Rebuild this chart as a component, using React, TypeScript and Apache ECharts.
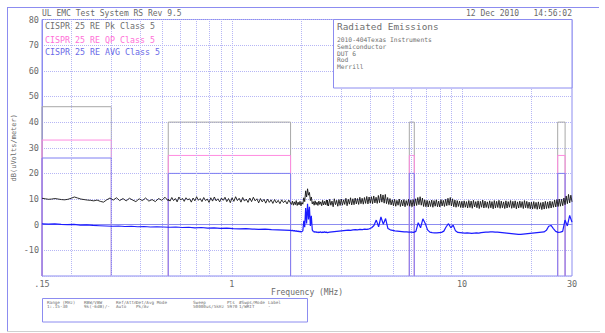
import React, { useEffect, useRef } from "react";
import * as echarts from "echarts";

// ---------- data ----------
const bandStart = [0.15, 0.53, 5.9, 26];
const bandEnd = [0.3, 1.8, 6.2, 28];
const pkLimit = [46, 40, 40, 40];
const qpLimit = [33, 27, 27, 27];
const avgLimit = [26, 20, 20, 20];

const gridFreqs = [0.2, 0.3, 0.4, 0.5, 0.6, 0.7, 0.8, 0.9, 1, 2, 3, 4, 5, 6, 7, 8, 9, 10, 20];
const yTicks = [-20, -10, 0, 10, 20, 30, 40, 50, 60, 70, 80];

// Peak trace, segment ranges (MHz) and the values read in each
const pkRanges = [[0.15, 0.53], [0.53, 1.8], [1.8, 2.6], [2.6, 30]];
const pkSeg1 = [10.3, 10.1, 9.9, 10.0, 10.2, 10.0, 9.8, 9.7, 9.9, 10.3, 10.8, 10.4, 10.0, 9.8, 9.6, 9.5, 9.3, 9.6, 9.1, 8.8,
  9.7, 10.4, 9.6, 10.5, 9.4, 10.2, 9.3, 10.3, 9.6, 9.0, 10.1, 9.4, 10.4, 9.2, 9.8, 9.0, 10.2, 9.5, 10.7, 9.3];
const pkSeg2 = [10.0, 9.2, 10.6, 9.4, 10.2, 8.9, 10.8, 9.6, 10.3, 9.1, 10.5, 9.7, 10.1, 8.8, 10.4, 9.3, 10.9, 9.5, 10.2, 9.0,
  10.6, 9.4, 10.0, 8.7, 10.5, 9.2, 10.8, 9.3, 10.1, 8.9, 10.4, 9.5, 10.7, 9.0, 10.2, 8.6, 10.5, 9.1, 10.9, 9.4,
  10.3, 8.8, 10.6, 9.2, 10.0, 8.7, 10.4, 9.0, 10.7, 9.3, 10.1, 8.5, 10.2, 8.9, 9.9, 8.4, 10.0, 8.7, 9.7, 8.3,
  9.8, 8.5, 9.5, 8.2, 9.7, 8.6, 9.4, 8.1, 9.6, 8.4];
const pkSeg3 = [8.6, 7.9, 9.2, 7.6, 8.9, 7.8, 9.4, 7.5, 8.8, 7.7, 9.1, 7.4, 8.7, 8.0, 10.5, 9.0, 13.2, 10.8, 14.0, 11.5,
  12.6, 9.4, 10.8, 8.1, 9.0, 7.6, 9.3, 7.8, 8.8, 7.5, 9.2, 7.9, 8.9, 7.4, 9.5, 7.7, 9.1, 7.8, 9.6, 7.5];
const pkSeg4 = [
  9.6, 7.3, 9.9, 7.6, 9.2, 7.0, 10.1, 7.8, 9.5, 7.2, 9.8, 7.5,
  10.0, 7.6, 9.7, 7.9, 10.3, 7.4, 9.9, 8.0, 10.5, 7.7, 10.1, 7.8, 10.4, 8.1, 10.2, 7.9, 10.7, 8.2, 10.3, 8.0, 10.6, 8.3, 11.0, 8.1, 10.8,
  8.4, 10.9, 8.2, 11.2, 8.5, 10.7, 8.3, 11.4, 8.6, 11.9, 8.8, 11.6, 8.4, 11.8, 8.2, 10.6, 7.9, 10.2, 7.7,
  9.7, 7.4, 9.9, 7.2, 9.5, 7.6, 10.0, 7.1, 9.6, 7.3, 9.8, 7.0, 9.4, 7.5, 9.9,
  7.2, 9.6, 7.0, 9.8, 7.3, 10.1, 7.5, 10.6, 7.8, 10.9, 7.6, 10.4, 7.1, 9.7, 7.0,
  9.5, 6.9, 9.3, 7.1, 9.6, 6.8, 9.4, 7.2, 9.7, 7.0, 9.2, 6.9, 9.8, 7.3, 9.5, 7.1, 9.9, 7.4, 10.3, 7.6, 10.6, 7.3, 10.1, 7.0, 9.6, 6.8, 9.4, 7.1, 9.2, 6.7,
  9.1, 6.6, 9.3, 6.8, 9.0, 6.5, 9.4, 6.7, 9.2, 6.4, 9.5, 6.9, 9.0, 6.6, 9.3, 6.3, 9.1, 6.8, 9.6, 6.5,
  9.2, 6.7, 8.9, 6.4, 9.3, 6.6, 9.0, 6.2, 9.4, 6.5, 9.1, 6.7, 9.5, 6.4, 9.2, 6.6, 8.9, 6.3, 9.3, 6.5,
  9.0, 6.8, 9.4, 6.4, 9.1, 6.6, 9.3, 6.2, 8.9, 6.5, 9.2, 6.7, 9.0, 6.3, 9.4, 6.6, 9.1, 6.4, 8.8, 6.2,
  8.8, 6.1, 9.0, 6.3, 8.7, 6.0, 8.9, 6.2, 8.6, 5.9, 8.8, 6.1, 9.1, 6.3, 8.9, 6.4, 9.2, 6.5, 9.0,
  6.8, 9.6, 6.9, 9.8, 7.1, 10.0, 7.2, 9.9, 7.4, 10.4,
  7.8, 11.2, 8.2, 11.8, 8.5, 11.5, 8.9];

// Average trace
const avgRanges = [[0.15, 1.8], [1.8, 2.6], [2.6, 30]];
const avgSeg1 = [0.3, 0.2, 0.3, 0.1, 0.0, 0.1, -0.2, -0.1, -0.3, -0.4, -0.5, -0.6, -0.5, -0.7, -0.6, -0.8, -0.7, -0.9, -0.8, -0.9,
  -1.0, -0.9, -1.1, -1.0, -1.2, -1.1, -1.3, -1.2, -1.4, -1.3, -1.5, -1.6, -1.5, -1.7, -1.8, -1.7, -1.9, -2.0, -2.1, -2.2];
const avgSeg2 = [-2.2, -2.3, -2.2, -2.4, -2.3, -2.5, -2.4, -2.6, -2.5, -2.7, -2.6, -2.8, -2.7, -2.4, 1.5, -1.0, 6.5, 0.5, 8.2, 2.0,
  7.0, -0.5, 3.5, -2.0, -2.6, -2.9, -2.7, -3.0, -2.8, -3.1, -2.9, -3.0, -2.8, -3.1, -2.9, -3.0, -2.8, -3.0, -2.9, -3.1];
const avgSeg3 = [
  -3.0, -2.9, -2.8, -2.7, -2.6, -2.5,
  -2.4, -2.3, -2.2, -2.1, -2.2, -2.0, -1.9, -2.0, -1.8, -1.9, -1.7, -1.8,
  -1.6, -1.2, -0.3, 1.8, -0.8, 3.0, 0.2, 2.4, -1.5,
  -2.0, -2.2, -2.4, -2.5, -2.6, -2.7, -2.8, -2.8, -2.9, -2.9, -3.0,
  -2.6, 0.8, -1.2, 2.3, 0.5, -2.0,
  -2.9, -3.1, -3.2, -3.2, -3.1, -3.0,
  -2.5, -0.8, 0.4, -1.2, -0.2, -2.4,
  -3.0, -3.1, -3.2, -3.3, -3.2, -3.3, -3.4, -3.3, -3.2, -3.3, -3.1, -3.0, -2.9, -2.9, -2.8, -2.8, -2.9, -2.9, -3.0, -3.1,
  -3.2, -3.3, -3.4, -3.5, -3.6, -3.7, -3.8, -3.8, -3.7, -3.6, -3.5, -3.4, -3.3, -3.2, -3.1, -3.0, -2.9, -2.8,
  -2.2, -0.6, -0.3, -1.5, -2.6,
  -3.0, -2.9, -2.6,
  1.8, -0.5, 3.6, 1.0];

const legendNames = ["CISPR 25 RE Pk Class 5", "CISPR 25 RE QP Class 5", "CISPR 25 RE AVG Class 5"];
const infoLines = ["2010-404Texas Instruments", "Semiconductor", "DUT 6", "Rod", "Merrill"];
const tableHead = ["Range (MHz)", "RBW/VBW", "Ref/Attn", "Det/Avg Mode", "Sweep", "Pts", "#Swps/Mode", "Label"];
const tableVals = ["1:.15-30", "9k(-6dB)/-", "Auto", "Pk/Av", "50000us/5kHz", "5970", "1/WRIT", "-"];

// ---------- style ----------
const FONT = "'DejaVu Sans Mono', 'Liberation Mono', monospace";
const GRID_C = "#b6b6f5";
const FRAME_C = "#8c8cf0";
const TEXT_C = "#6a6a6a";
const PK_C = "#a8a8a8";
const QP_C = "#ff8ce0";
const AVG_LIM_C = "#7f7ff2";

function place(ranges: number[][], segs: number[][]) {
  const out: number[][] = [];
  segs.forEach((vals, s) => {
    const [f0, f1] = ranges[s];
    const n = vals.length;
    vals.forEach((v, i) => out.push([f0 * Math.pow(f1 / f0, i / (n - 1)), v]));
  });
  return out;
}

function limitSeries(levels: number[], color: string, name: string) {
  return bandStart.map((f0, i) => ({
    type: "line",
    name,
    data: [[f0, -20], [f0, levels[i]], [bandEnd[i], levels[i]], [bandEnd[i], -20]],
    showSymbol: false,
    symbol: "none",
    lineStyle: { color, width: 1 },
    z: 3,
    silent: true,
  }));
}

export default function App() {
  const ref = useRef<HTMLDivElement>(null);
  useEffect(() => {
    if (!ref.current) return;
    const chart = echarts.init(ref.current, null, { renderer: "svg" });
    const pkData = place(pkRanges, [pkSeg1, pkSeg2, pkSeg3, pkSeg4]);
    const avgData = place(avgRanges, [avgSeg1, avgSeg2, avgSeg3]);

    const txt = (text: string, x: number, y: number, size: number, color = TEXT_C, align = "left") => ({
      type: "text",
      x,
      y,
      z: 110,
      silent: true,
      style: { text, fill: color, font: `${size}px ${FONT}`, align, verticalAlign: "middle" },
    });

    const colX = [47, 84, 116, 136, 193, 227, 239, 268];
    const graphic: any[] = [
      { type: "line", z: 100, shape: { x1: 7, y1: 7.5, x2: 599, y2: 7.5 }, style: { stroke: FRAME_C, lineWidth: 1 } },
      { type: "line", z: 100, shape: { x1: 7.5, y1: 7, x2: 7.5, y2: 331 }, style: { stroke: FRAME_C, lineWidth: 1 } },
      { type: "line", z: 100, shape: { x1: 7, y1: 331.5, x2: 600, y2: 331.5 }, style: { stroke: "#d0d0d0", lineWidth: 1 } },
      txt("UL EMC Test System RS Rev 9.5", 42, 13, 8),
      txt("12 Dec 2010   14:56:02", 572, 13, 8, TEXT_C, "right"),
      txt(legendNames[0], 45, 25.5, 8.3, "#707070"),
      txt(legendNames[1], 45, 40, 8.3, "#ff70d8"),
      txt(legendNames[2], 45, 52, 8.3, "#6a6ae8"),
      { type: "rect", z: 105, shape: { x: 333.5, y: 19.5, width: 238.5, height: 68.5 }, style: { fill: "#ffffff", stroke: FRAME_C, lineWidth: 1 } },
      txt("Radiated Emissions", 337, 26, 9.4, "#707070"),
      ...infoLines.map((t, i) => txt(t, 337, 39.5 + i * 6.8, 6.3, "#707070")),
      { type: "rect", z: 105, shape: { x: 42.5, y: 298.5, width: 265, height: 23.5 }, style: { fill: "#ffffff", stroke: FRAME_C, lineWidth: 1 } },
      ...tableHead.map((t, i) => txt(t, colX[i], 302.5, 4.3, "#707070")),
      ...tableVals.map((t, i) => txt(t, colX[i], 306.8, 4.3, "#707070")),
    ];

    const option: any = {
      animation: false,
      grid: { left: 42, right: 33, top: 19.5, bottom: 57, show: true, borderColor: FRAME_C, borderWidth: 1 },
      xAxis: {
        type: "log",
        logBase: 10,
        min: 0.15,
        max: 30,
        axisLine: { show: true, lineStyle: { color: FRAME_C, width: 1 } },
        axisTick: { show: false },
        splitLine: { show: false },
        axisLabel: {
          showMinLabel: true,
          showMaxLabel: true,
          margin: 3,
          color: TEXT_C,
          fontFamily: FONT,
          fontSize: 8.5,
          formatter: (v: number) => (v < 0.5 ? ".15" : v > 20 ? "30" : String(Math.round(v))),
        },
        name: "Frequency (MHz)",
        nameLocation: "middle",
        nameGap: 12,
        nameMoveOverlap: false,
        nameTextStyle: { color: TEXT_C, fontFamily: FONT, fontSize: 8 },
      },
      yAxis: {
        type: "value",
        min: -20,
        max: 80,
        interval: 10,
        axisLine: { show: true, lineStyle: { color: FRAME_C, width: 1 } },
        axisTick: { show: false },
        splitLine: { show: true, lineStyle: { type: "dotted", color: GRID_C, width: 1 } },
        axisLabel: {
          margin: 3,
          color: TEXT_C,
          fontFamily: FONT,
          fontSize: 8.5,
          formatter: (v: number) => (v === yTicks[0] ? "" : String(v)),
        },
        name: "dB(uVolts/meter)",
        nameLocation: "middle",
        nameGap: 25,
        nameMoveOverlap: false,
        nameRotate: 90,
        nameTextStyle: { color: TEXT_C, fontFamily: FONT, fontSize: 7 },
      },
      series: [
        {
          type: "line",
          name: "grid",
          data: [[0.15, -30]],
          showSymbol: false,
          symbol: "none",
          lineStyle: { opacity: 0 },
          silent: true,
          z: 1,
          markLine: {
            silent: true,
            symbol: ["none", "none"],
            label: { show: false },
            lineStyle: { type: "dotted", color: GRID_C, width: 1 },
            data: gridFreqs.map((f) => ({ xAxis: f })),
          },
        },
        ...limitSeries(pkLimit, PK_C, legendNames[0]),
        ...limitSeries(qpLimit, QP_C, legendNames[1]),
        ...limitSeries(avgLimit, AVG_LIM_C, legendNames[2]),
        {
          type: "line",
          name: "Peak",
          data: pkData,
          showSymbol: false,
          symbol: "none",
          lineStyle: { color: "#151515", width: 0.9 },
          z: 5,
          silent: true,
        },
        {
          type: "line",
          name: "Average",
          data: avgData,
          showSymbol: false,
          symbol: "none",
          lineStyle: { color: "#1c1cff", width: 1.2 },
          z: 6,
          silent: true,
        },
      ],
      graphic,
    };
    chart.setOption(option);
    return () => chart.dispose();
  }, []);
  return <div ref={ref} style={{ width: 605, height: 333, position: "absolute", left: 0, top: 0 }} />;
}
